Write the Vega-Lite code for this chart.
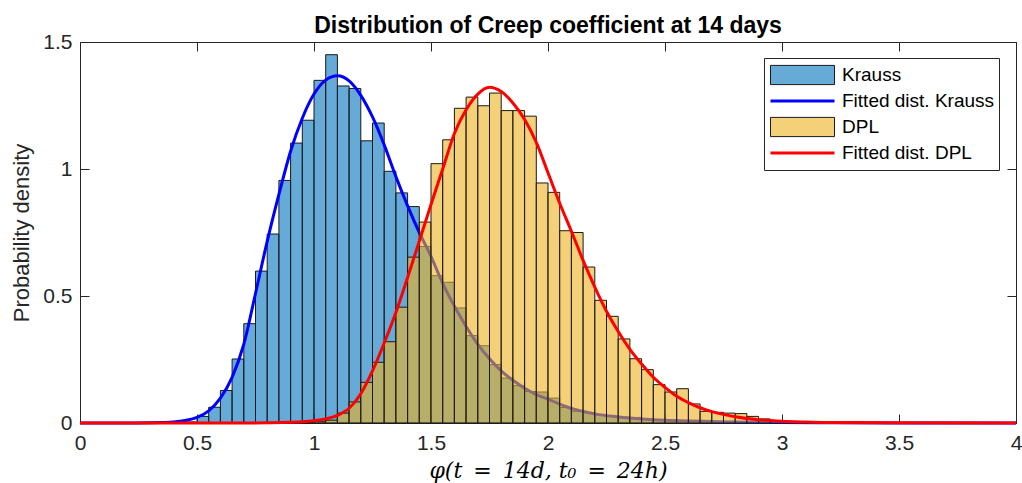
{
  "$schema": "https://vega.github.io/schema/vega-lite/v6.json",
  "width": 936,
  "height": 381,
  "autosize": "none",
  "padding": {"left": 80, "top": 42, "right": 6, "bottom": 60},
  "background": "white",
  "title": {"text": "Distribution of Creep coefficient at 14 days", "font": "Liberation Sans", "fontSize": 23, "fontWeight": "bold", "color": "#000000", "anchor": "middle", "offset": -7},
  "config": {"view": {"stroke": null}, "font": "Liberation Sans"},
  "datasets": {
    "hist": [
      {"series": "Krauss", "b0": 0.45, "b1": 0.50, "d": 0.004},
      {"series": "Krauss", "b0": 0.50, "b1": 0.55, "d": 0.026},
      {"series": "Krauss", "b0": 0.55, "b1": 0.60, "d": 0.062},
      {"series": "Krauss", "b0": 0.60, "b1": 0.65, "d": 0.128},
      {"series": "Krauss", "b0": 0.65, "b1": 0.70, "d": 0.252},
      {"series": "Krauss", "b0": 0.70, "b1": 0.75, "d": 0.391},
      {"series": "Krauss", "b0": 0.75, "b1": 0.80, "d": 0.598},
      {"series": "Krauss", "b0": 0.80, "b1": 0.85, "d": 0.744},
      {"series": "Krauss", "b0": 0.85, "b1": 0.90, "d": 0.955},
      {"series": "Krauss", "b0": 0.90, "b1": 0.95, "d": 1.102},
      {"series": "Krauss", "b0": 0.95, "b1": 1.00, "d": 1.192},
      {"series": "Krauss", "b0": 1.00, "b1": 1.05, "d": 1.349},
      {"series": "Krauss", "b0": 1.05, "b1": 1.10, "d": 1.450},
      {"series": "Krauss", "b0": 1.10, "b1": 1.15, "d": 1.327},
      {"series": "Krauss", "b0": 1.15, "b1": 1.20, "d": 1.317},
      {"series": "Krauss", "b0": 1.20, "b1": 1.25, "d": 1.111},
      {"series": "Krauss", "b0": 1.25, "b1": 1.30, "d": 1.181},
      {"series": "Krauss", "b0": 1.30, "b1": 1.35, "d": 0.991},
      {"series": "Krauss", "b0": 1.35, "b1": 1.40, "d": 0.906},
      {"series": "Krauss", "b0": 1.40, "b1": 1.45, "d": 0.852},
      {"series": "Krauss", "b0": 1.45, "b1": 1.50, "d": 0.695},
      {"series": "Krauss", "b0": 1.50, "b1": 1.55, "d": 0.580},
      {"series": "Krauss", "b0": 1.55, "b1": 1.60, "d": 0.554},
      {"series": "Krauss", "b0": 1.60, "b1": 1.65, "d": 0.453},
      {"series": "Krauss", "b0": 1.65, "b1": 1.70, "d": 0.344},
      {"series": "Krauss", "b0": 1.70, "b1": 1.75, "d": 0.304},
      {"series": "Krauss", "b0": 1.75, "b1": 1.80, "d": 0.230},
      {"series": "Krauss", "b0": 1.80, "b1": 1.85, "d": 0.177},
      {"series": "Krauss", "b0": 1.85, "b1": 1.90, "d": 0.147},
      {"series": "Krauss", "b0": 1.90, "b1": 1.95, "d": 0.124},
      {"series": "Krauss", "b0": 1.95, "b1": 2.00, "d": 0.122},
      {"series": "Krauss", "b0": 2.00, "b1": 2.05, "d": 0.098},
      {"series": "Krauss", "b0": 2.05, "b1": 2.10, "d": 0.061},
      {"series": "Krauss", "b0": 2.10, "b1": 2.15, "d": 0.046},
      {"series": "Krauss", "b0": 2.15, "b1": 2.20, "d": 0.040},
      {"series": "Krauss", "b0": 2.20, "b1": 2.25, "d": 0.032},
      {"series": "Krauss", "b0": 2.25, "b1": 2.30, "d": 0.026},
      {"series": "Krauss", "b0": 2.30, "b1": 2.35, "d": 0.023},
      {"series": "Krauss", "b0": 2.35, "b1": 2.40, "d": 0.022},
      {"series": "Krauss", "b0": 2.40, "b1": 2.45, "d": 0.016},
      {"series": "Krauss", "b0": 2.45, "b1": 2.50, "d": 0.013},
      {"series": "Krauss", "b0": 2.50, "b1": 2.55, "d": 0.011},
      {"series": "Krauss", "b0": 2.55, "b1": 2.60, "d": 0.009},
      {"series": "Krauss", "b0": 2.60, "b1": 2.65, "d": 0.007},
      {"series": "Krauss", "b0": 2.65, "b1": 2.70, "d": 0.006},
      {"series": "Krauss", "b0": 2.70, "b1": 2.75, "d": 0.005},
      {"series": "Krauss", "b0": 2.75, "b1": 2.80, "d": 0.004},
      {"series": "Krauss", "b0": 2.80, "b1": 2.85, "d": 0.003},
      {"series": "Krauss", "b0": 2.85, "b1": 2.90, "d": 0.002},
      {"series": "Krauss", "b0": 2.90, "b1": 2.95, "d": 0.002},
      {"series": "Krauss", "b0": 2.95, "b1": 3.00, "d": 0.001},
      {"series": "DPL", "b0": 0.95, "b1": 1.00, "d": 0.002},
      {"series": "DPL", "b0": 1.00, "b1": 1.05, "d": 0.005},
      {"series": "DPL", "b0": 1.05, "b1": 1.10, "d": 0.011},
      {"series": "DPL", "b0": 1.10, "b1": 1.15, "d": 0.039},
      {"series": "DPL", "b0": 1.15, "b1": 1.20, "d": 0.083},
      {"series": "DPL", "b0": 1.20, "b1": 1.25, "d": 0.160},
      {"series": "DPL", "b0": 1.25, "b1": 1.30, "d": 0.239},
      {"series": "DPL", "b0": 1.30, "b1": 1.35, "d": 0.320},
      {"series": "DPL", "b0": 1.35, "b1": 1.40, "d": 0.456},
      {"series": "DPL", "b0": 1.40, "b1": 1.45, "d": 0.653},
      {"series": "DPL", "b0": 1.45, "b1": 1.50, "d": 0.791},
      {"series": "DPL", "b0": 1.50, "b1": 1.55, "d": 1.021},
      {"series": "DPL", "b0": 1.55, "b1": 1.60, "d": 1.115},
      {"series": "DPL", "b0": 1.60, "b1": 1.65, "d": 1.239},
      {"series": "DPL", "b0": 1.65, "b1": 1.70, "d": 1.283},
      {"series": "DPL", "b0": 1.70, "b1": 1.75, "d": 1.249},
      {"series": "DPL", "b0": 1.75, "b1": 1.80, "d": 1.299},
      {"series": "DPL", "b0": 1.80, "b1": 1.85, "d": 1.230},
      {"series": "DPL", "b0": 1.85, "b1": 1.90, "d": 1.230},
      {"series": "DPL", "b0": 1.90, "b1": 1.95, "d": 1.208},
      {"series": "DPL", "b0": 1.95, "b1": 2.00, "d": 0.945},
      {"series": "DPL", "b0": 2.00, "b1": 2.05, "d": 0.908},
      {"series": "DPL", "b0": 2.05, "b1": 2.10, "d": 0.757},
      {"series": "DPL", "b0": 2.10, "b1": 2.15, "d": 0.750},
      {"series": "DPL", "b0": 2.15, "b1": 2.20, "d": 0.614},
      {"series": "DPL", "b0": 2.20, "b1": 2.25, "d": 0.483},
      {"series": "DPL", "b0": 2.25, "b1": 2.30, "d": 0.420},
      {"series": "DPL", "b0": 2.30, "b1": 2.35, "d": 0.331},
      {"series": "DPL", "b0": 2.35, "b1": 2.40, "d": 0.253},
      {"series": "DPL", "b0": 2.40, "b1": 2.45, "d": 0.210},
      {"series": "DPL", "b0": 2.45, "b1": 2.50, "d": 0.151},
      {"series": "DPL", "b0": 2.50, "b1": 2.55, "d": 0.122},
      {"series": "DPL", "b0": 2.55, "b1": 2.60, "d": 0.135},
      {"series": "DPL", "b0": 2.60, "b1": 2.65, "d": 0.075},
      {"series": "DPL", "b0": 2.65, "b1": 2.70, "d": 0.046},
      {"series": "DPL", "b0": 2.70, "b1": 2.75, "d": 0.042},
      {"series": "DPL", "b0": 2.75, "b1": 2.80, "d": 0.039},
      {"series": "DPL", "b0": 2.80, "b1": 2.85, "d": 0.037},
      {"series": "DPL", "b0": 2.85, "b1": 2.90, "d": 0.026},
      {"series": "DPL", "b0": 2.90, "b1": 2.95, "d": 0.016},
      {"series": "DPL", "b0": 2.95, "b1": 3.00, "d": 0.010},
      {"series": "DPL", "b0": 3.00, "b1": 3.05, "d": 0.006},
      {"series": "DPL", "b0": 3.05, "b1": 3.10, "d": 0.004},
      {"series": "DPL", "b0": 3.10, "b1": 3.15, "d": 0.003},
      {"series": "DPL", "b0": 3.15, "b1": 3.20, "d": 0.002}
    ],
    "fit": [
      {"series": "Fitted dist. Krauss", "x": 0.0, "y": 0},
      {"series": "Fitted dist. Krauss", "x": 0.2, "y": 0},
      {"series": "Fitted dist. Krauss", "x": 0.3, "y": 0.001},
      {"series": "Fitted dist. Krauss", "x": 0.35, "y": 0.002},
      {"series": "Fitted dist. Krauss", "x": 0.4, "y": 0.004},
      {"series": "Fitted dist. Krauss", "x": 0.45, "y": 0.01},
      {"series": "Fitted dist. Krauss", "x": 0.5, "y": 0.022},
      {"series": "Fitted dist. Krauss", "x": 0.55, "y": 0.048},
      {"series": "Fitted dist. Krauss", "x": 0.6, "y": 0.098},
      {"series": "Fitted dist. Krauss", "x": 0.65, "y": 0.18},
      {"series": "Fitted dist. Krauss", "x": 0.7, "y": 0.31},
      {"series": "Fitted dist. Krauss", "x": 0.75, "y": 0.51},
      {"series": "Fitted dist. Krauss", "x": 0.8, "y": 0.715},
      {"series": "Fitted dist. Krauss", "x": 0.85, "y": 0.9},
      {"series": "Fitted dist. Krauss", "x": 0.9, "y": 1.07},
      {"series": "Fitted dist. Krauss", "x": 0.95, "y": 1.2},
      {"series": "Fitted dist. Krauss", "x": 1.0, "y": 1.295},
      {"series": "Fitted dist. Krauss", "x": 1.05, "y": 1.35},
      {"series": "Fitted dist. Krauss", "x": 1.1, "y": 1.367},
      {"series": "Fitted dist. Krauss", "x": 1.15, "y": 1.347},
      {"series": "Fitted dist. Krauss", "x": 1.2, "y": 1.29},
      {"series": "Fitted dist. Krauss", "x": 1.25, "y": 1.205},
      {"series": "Fitted dist. Krauss", "x": 1.3, "y": 1.095},
      {"series": "Fitted dist. Krauss", "x": 1.35, "y": 0.97},
      {"series": "Fitted dist. Krauss", "x": 1.4, "y": 0.855},
      {"series": "Fitted dist. Krauss", "x": 1.45, "y": 0.75},
      {"series": "Fitted dist. Krauss", "x": 1.5, "y": 0.656},
      {"series": "Fitted dist. Krauss", "x": 1.55, "y": 0.55},
      {"series": "Fitted dist. Krauss", "x": 1.6, "y": 0.46},
      {"series": "Fitted dist. Krauss", "x": 1.65, "y": 0.38},
      {"series": "Fitted dist. Krauss", "x": 1.7, "y": 0.31},
      {"series": "Fitted dist. Krauss", "x": 1.75, "y": 0.253},
      {"series": "Fitted dist. Krauss", "x": 1.8, "y": 0.205},
      {"series": "Fitted dist. Krauss", "x": 1.85, "y": 0.168},
      {"series": "Fitted dist. Krauss", "x": 1.9, "y": 0.137},
      {"series": "Fitted dist. Krauss", "x": 1.95, "y": 0.112},
      {"series": "Fitted dist. Krauss", "x": 2.0, "y": 0.094},
      {"series": "Fitted dist. Krauss", "x": 2.05, "y": 0.074},
      {"series": "Fitted dist. Krauss", "x": 2.1, "y": 0.057},
      {"series": "Fitted dist. Krauss", "x": 2.15, "y": 0.046},
      {"series": "Fitted dist. Krauss", "x": 2.2, "y": 0.036},
      {"series": "Fitted dist. Krauss", "x": 2.3, "y": 0.024},
      {"series": "Fitted dist. Krauss", "x": 2.4, "y": 0.016},
      {"series": "Fitted dist. Krauss", "x": 2.5, "y": 0.011},
      {"series": "Fitted dist. Krauss", "x": 2.6, "y": 0.008},
      {"series": "Fitted dist. Krauss", "x": 2.7, "y": 0.006},
      {"series": "Fitted dist. Krauss", "x": 2.8, "y": 0.004},
      {"series": "Fitted dist. Krauss", "x": 2.9, "y": 0.003},
      {"series": "Fitted dist. Krauss", "x": 3.0, "y": 0.002},
      {"series": "Fitted dist. Krauss", "x": 3.2, "y": 0.001},
      {"series": "Fitted dist. Krauss", "x": 3.5, "y": 0},
      {"series": "Fitted dist. Krauss", "x": 4.0, "y": 0},
      {"series": "Fitted dist. DPL", "x": 0.0, "y": 0},
      {"series": "Fitted dist. DPL", "x": 0.7, "y": 0},
      {"series": "Fitted dist. DPL", "x": 0.8, "y": 0.001},
      {"series": "Fitted dist. DPL", "x": 0.9, "y": 0.003},
      {"series": "Fitted dist. DPL", "x": 0.95, "y": 0.005},
      {"series": "Fitted dist. DPL", "x": 1.0, "y": 0.009},
      {"series": "Fitted dist. DPL", "x": 1.05, "y": 0.016},
      {"series": "Fitted dist. DPL", "x": 1.1, "y": 0.03},
      {"series": "Fitted dist. DPL", "x": 1.15, "y": 0.058},
      {"series": "Fitted dist. DPL", "x": 1.2, "y": 0.115},
      {"series": "Fitted dist. DPL", "x": 1.25, "y": 0.205},
      {"series": "Fitted dist. DPL", "x": 1.3, "y": 0.315},
      {"series": "Fitted dist. DPL", "x": 1.35, "y": 0.435},
      {"series": "Fitted dist. DPL", "x": 1.4, "y": 0.573},
      {"series": "Fitted dist. DPL", "x": 1.45, "y": 0.716},
      {"series": "Fitted dist. DPL", "x": 1.5, "y": 0.86},
      {"series": "Fitted dist. DPL", "x": 1.55, "y": 1.0},
      {"series": "Fitted dist. DPL", "x": 1.6, "y": 1.14},
      {"series": "Fitted dist. DPL", "x": 1.65, "y": 1.233},
      {"series": "Fitted dist. DPL", "x": 1.7, "y": 1.295},
      {"series": "Fitted dist. DPL", "x": 1.75, "y": 1.322},
      {"series": "Fitted dist. DPL", "x": 1.8, "y": 1.305},
      {"series": "Fitted dist. DPL", "x": 1.85, "y": 1.26},
      {"series": "Fitted dist. DPL", "x": 1.9, "y": 1.195},
      {"series": "Fitted dist. DPL", "x": 1.95, "y": 1.105},
      {"series": "Fitted dist. DPL", "x": 2.0, "y": 0.985},
      {"series": "Fitted dist. DPL", "x": 2.05, "y": 0.865},
      {"series": "Fitted dist. DPL", "x": 2.1, "y": 0.755},
      {"series": "Fitted dist. DPL", "x": 2.15, "y": 0.64},
      {"series": "Fitted dist. DPL", "x": 2.2, "y": 0.535},
      {"series": "Fitted dist. DPL", "x": 2.25, "y": 0.44},
      {"series": "Fitted dist. DPL", "x": 2.3, "y": 0.36},
      {"series": "Fitted dist. DPL", "x": 2.35, "y": 0.29},
      {"series": "Fitted dist. DPL", "x": 2.4, "y": 0.232},
      {"series": "Fitted dist. DPL", "x": 2.45, "y": 0.18},
      {"series": "Fitted dist. DPL", "x": 2.5, "y": 0.14},
      {"series": "Fitted dist. DPL", "x": 2.55, "y": 0.105},
      {"series": "Fitted dist. DPL", "x": 2.6, "y": 0.08},
      {"series": "Fitted dist. DPL", "x": 2.65, "y": 0.06},
      {"series": "Fitted dist. DPL", "x": 2.7, "y": 0.045},
      {"series": "Fitted dist. DPL", "x": 2.75, "y": 0.034},
      {"series": "Fitted dist. DPL", "x": 2.8, "y": 0.025},
      {"series": "Fitted dist. DPL", "x": 2.9, "y": 0.013},
      {"series": "Fitted dist. DPL", "x": 3.0, "y": 0.007},
      {"series": "Fitted dist. DPL", "x": 3.1, "y": 0.004},
      {"series": "Fitted dist. DPL", "x": 3.2, "y": 0.002},
      {"series": "Fitted dist. DPL", "x": 3.5, "y": 0.0005},
      {"series": "Fitted dist. DPL", "x": 4.0, "y": 0}
    ]
  },
  "resolve": {"scale": {"color": "independent"}, "legend": {"color": "independent"}, "axis": {"x": "independent", "y": "independent"}},
  "layer": [
    {
      "data": {"name": "fit"},
      "transform": [{"filter": "false"}],
      "mark": {"type": "point"},
      "encoding": {
        "color": {"field": "series", "type": "nominal",
          "scale": {"domain": ["Krauss", "Fitted dist. Krauss", "DPL", "Fitted dist. DPL"], "range": ["#0072BD", "#0000FF", "#EDB120", "#FF0000"]},
          "legend": {"orient": "none", "legendX": 684, "legendY": 16, "title": null,
            "labelFont": "Liberation Sans", "labelFontSize": 19, "labelColor": "#000000", "labelOffset": 7, "labelLimit": 400,
            "padding": 4, "strokeColor": "#262626", "fillColor": "white", "clipHeight": 26, "rowPadding": 0,
            "symbolOffset": 2, "symbolSize": 4096, "symbolStrokeWidth": 1, "symbolOpacity": 0, "symbolType": "square"}
        }
      }
    },
    {
      "data": {"name": "hist"},
      "transform": [{"filter": "false"}],
      "mark": {"type": "bar", "stroke": "#1a1a1a", "strokeWidth": 1},
      "encoding": {
        "color": {"field": "series", "type": "nominal",
          "scale": {"domain": ["Krauss"], "range": ["#66AAD7"]},
          "legend": {"orient": "none", "legendX": 684, "legendY": 16, "title": null,
            "labelFontSize": 19, "labelOpacity": 0, "labelExpr": "''", "padding": 4, "clipHeight": 26, "rowPadding": 0,
            "symbolOffset": 2, "symbolSize": 4096, "symbolStrokeWidth": 1, "symbolType": "M-1,-0.3H1V0.3H-1Z"}
        }
      }
    },
    {
      "data": {"name": "hist"},
      "transform": [{"filter": "false"}],
      "mark": {"type": "bar", "stroke": "#1a1a1a", "strokeWidth": 1},
      "encoding": {
        "color": {"field": "series", "type": "nominal",
          "scale": {"domain": ["DPL"], "range": ["#F4D079"]},
          "legend": {"orient": "none", "legendX": 684, "legendY": 68, "title": null,
            "labelFontSize": 19, "labelOpacity": 0, "labelExpr": "''", "padding": 4, "clipHeight": 26, "rowPadding": 0,
            "symbolOffset": 2, "symbolSize": 4096, "symbolStrokeWidth": 1, "symbolType": "M-1,-0.3H1V0.3H-1Z"}
        }
      }
    },
    {
      "data": {"name": "hist"},
      "transform": [{"filter": "datum.series === 'Krauss'"}],
      "mark": {"type": "bar", "fill": "#0072BD", "fillOpacity": 0.6, "stroke": "#1a1a1a", "strokeWidth": 1},
      "encoding": {
        "x": {"field": "b0", "type": "quantitative",
          "scale": {"domain": [0, 4], "nice": false, "zero": false},
          "axis": {"orient": "bottom", "values": [0, 0.5, 1, 1.5, 2, 2.5, 3, 3.5, 4], "format": "~g", "grid": false,
            "domainColor": "#262626", "domainWidth": 1, "tickColor": "#262626", "tickSize": -9, "tickWidth": 1,
            "labelFont": "Liberation Sans", "labelFontSize": 21, "labelColor": "#262626", "labelPadding": 18, "labelFlush": false,
            "title": "φ(t\u2002=\u200214d, t₀\u2002=\u200224h)", "titleFont": "DejaVu Serif", "titleFontStyle": "italic", "titleFontWeight": "normal",
            "titleFontSize": 22, "titleColor": "#000000", "titlePadding": 7}},
        "x2": {"field": "b1"},
        "y": {"field": "d", "type": "quantitative",
          "scale": {"domain": [0, 1.5], "nice": false},
          "axis": {"orient": "left", "values": [0, 0.5, 1, 1.5], "format": "~g", "grid": false,
            "domainColor": "#262626", "domainWidth": 1, "tickColor": "#262626", "tickSize": -9, "tickWidth": 1,
            "labelFont": "Liberation Sans", "labelFontSize": 21, "labelColor": "#262626", "labelPadding": 17, "labelFlush": false,
            "title": "Probability density", "titleFont": "Liberation Sans", "titleFontWeight": "normal",
            "titleFontSize": 22, "titleColor": "#262626", "titlePadding": 9}},
        "y2": {"datum": 0}
      }
    },
    {
      "data": {"name": "fit"},
      "transform": [{"filter": "datum.series === 'Fitted dist. Krauss'"}],
      "mark": {"type": "line", "strokeWidth": 3, "interpolate": "monotone"},
      "encoding": {
        "x": {"field": "x", "type": "quantitative", "axis": null},
        "y": {"field": "y", "type": "quantitative", "axis": null},
        "color": {"field": "series", "type": "nominal",
          "scale": {"domain": ["Fitted dist. Krauss"], "range": ["#0000FF"]},
          "legend": {"orient": "none", "legendX": 684, "legendY": 42, "title": null,
            "labelFontSize": 19, "labelOpacity": 0, "labelExpr": "''", "padding": 4, "clipHeight": 26, "rowPadding": 0,
            "symbolOffset": 1, "symbolSize": 4096, "symbolStrokeWidth": 3, "symbolType": "M-1,0H1"}
        }
      }
    },
    {
      "data": {"name": "hist"},
      "transform": [{"filter": "datum.series === 'DPL'"}],
      "mark": {"type": "bar", "fill": "#EDB120", "fillOpacity": 0.6, "stroke": "#1a1a1a", "strokeWidth": 1},
      "encoding": {
        "x": {"field": "b0", "type": "quantitative", "axis": null},
        "x2": {"field": "b1"},
        "y": {"field": "d", "type": "quantitative", "axis": null},
        "y2": {"datum": 0}
      }
    },
    {
      "data": {"name": "fit"},
      "transform": [{"filter": "datum.series === 'Fitted dist. DPL'"}],
      "mark": {"type": "line", "strokeWidth": 3, "interpolate": "monotone"},
      "encoding": {
        "x": {"field": "x", "type": "quantitative",
          "axis": {"orient": "top", "values": [0, 0.5, 1, 1.5, 2, 2.5, 3, 3.5, 4], "labels": false, "title": null, "grid": false,
            "domainColor": "#262626", "domainWidth": 1, "tickColor": "#262626", "tickSize": -9, "tickWidth": 1}},
        "y": {"field": "y", "type": "quantitative",
          "axis": {"orient": "right", "values": [0, 0.5, 1, 1.5], "labels": false, "title": null, "grid": false,
            "domainColor": "#262626", "domainWidth": 1, "tickColor": "#262626", "tickSize": -9, "tickWidth": 1}},
        "color": {"field": "series", "type": "nominal",
          "scale": {"domain": ["Fitted dist. DPL"], "range": ["#FF0000"]},
          "legend": {"orient": "none", "legendX": 684, "legendY": 94, "title": null,
            "labelFontSize": 19, "labelOpacity": 0, "labelExpr": "''", "padding": 4, "clipHeight": 26, "rowPadding": 0,
            "symbolOffset": 1, "symbolSize": 4096, "symbolStrokeWidth": 3, "symbolType": "M-1,0H1"}
        }
      }
    }
  ]
}
